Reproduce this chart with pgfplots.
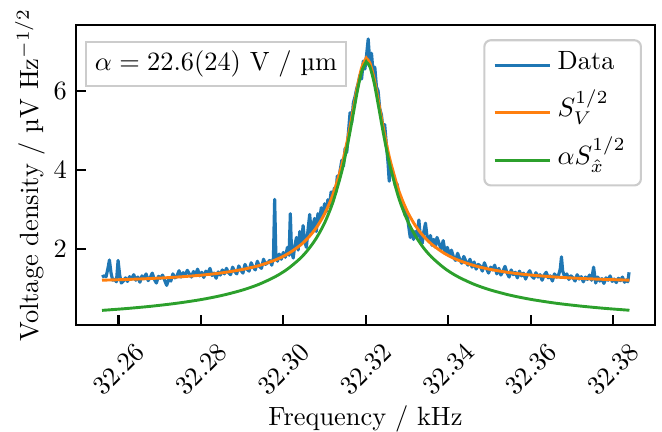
\documentclass[border=0pt]{standalone}
\usepackage{pgfplots}
\pgfplotsset{compat=1.18}
\usetikzlibrary{calc}
\definecolor{tabblue}{HTML}{1F77B4}
\definecolor{taborange}{HTML}{FF7F0E}
\definecolor{tabgreen}{HTML}{2CA02C}
\definecolor{boxgray}{HTML}{CCCCCC}

\pgfplotstableread{
x y
32.2560 1.30
32.2565 1.33
32.2570 1.31
32.2575 1.55
32.2578 1.73
32.2582 1.40
32.2586 1.22
32.2590 1.25
32.2595 1.18
32.2599 1.72
32.2603 1.35
32.2607 1.15
32.2612 1.20
32.2617 1.28
32.2622 1.19
32.2627 1.31
32.2632 1.25
32.2637 1.36
32.2642 1.22
32.2647 1.30
32.2652 1.17
32.2657 1.33
32.2662 1.26
32.2667 1.38
32.2672 1.21
32.2677 1.29
32.2682 1.40
32.2687 1.24
32.2692 1.15
32.2697 1.32
32.2702 1.27
32.2707 1.35
32.2712 1.22
32.2717 1.09
32.2722 1.25
32.2727 1.20
32.2732 1.38
32.2737 1.28
32.2742 1.33
32.2747 1.46
32.2752 1.30
32.2757 1.41
32.2762 1.35
32.2767 1.47
32.2772 1.38
32.2777 1.30
32.2782 1.44
32.2787 1.36
32.2792 1.50
32.2797 1.33
32.2802 1.42
32.2807 1.29
32.2812 1.45
32.2817 1.38
32.2822 1.52
32.2827 1.34
32.2832 1.40
32.2837 1.27
32.2842 1.43
32.2847 1.35
32.2852 1.48
32.2857 1.38
32.2862 1.52
32.2867 1.41
32.2872 1.36
32.2877 1.55
32.2882 1.44
32.2887 1.38
32.2892 1.58
32.2897 1.47
32.2902 1.40
32.2907 1.62
32.2912 1.50
32.2917 1.45
32.2922 1.66
32.2927 1.55
32.2932 1.48
32.2937 1.70
32.2942 1.57
32.2947 1.52
32.2952 1.75
32.2957 1.62
32.2962 1.66
32.2967 1.72
32.2972 1.60
32.2976 1.78
32.2979 3.26
32.2982 1.82
32.2986 1.70
32.2990 1.88
32.2995 1.75
32.3000 1.92
32.3005 1.80
32.3010 2.05
32.3014 1.85
32.3017 2.90
32.3020 1.95
32.3024 1.78
32.3028 2.10
32.3032 2.30
32.3036 1.98
32.3040 2.45
32.3044 2.15
32.3048 2.60
32.3052 2.20
32.3056 2.05
32.3060 2.50
32.3064 2.88
32.3068 2.40
32.3072 2.62
32.3076 2.78
32.3080 2.45
32.3084 2.90
32.3088 2.70
32.3092 3.05
32.3096 2.85
32.3100 3.15
32.3104 2.95
32.3108 3.25
32.3112 3.10
32.3116 3.45
32.3120 3.30
32.3124 3.55
32.3128 3.45
32.3131 3.85
32.3134 3.70
32.3138 4.00
32.3142 4.25
32.3146 4.10
32.3150 4.55
32.3154 4.45
32.3158 4.95
32.3162 5.45
32.3166 5.20
32.3170 5.70
32.3174 5.85
32.3178 6.05
32.3182 6.20
32.3186 6.40
32.3190 6.30
32.3194 6.75
32.3198 6.55
32.3202 6.90
32.3206 7.31
32.3210 6.70
32.3214 6.95
32.3218 6.45
32.3222 6.60
32.3226 6.10
32.3230 6.00
32.3234 5.55
32.3238 5.40
32.3242 5.05
32.3246 5.15
32.3250 4.65
32.3254 4.20
32.3257 3.72
32.3260 4.10
32.3264 4.00
32.3268 3.85
32.3272 3.60
32.3276 3.65
32.3280 3.40
32.3284 3.30
32.3288 3.20
32.3292 3.05
32.3296 2.85
32.3300 2.95
32.3304 2.60
32.3308 2.30
32.3312 2.45
32.3316 2.25
32.3320 2.45
32.3324 2.30
32.3329 2.74
32.3333 2.25
32.3337 2.15
32.3341 2.45
32.3345 2.66
32.3349 2.30
32.3353 2.20
32.3357 2.35
32.3361 2.10
32.3365 2.25
32.3369 2.05
32.3373 2.30
32.3378 2.15
32.3383 2.00
32.3388 2.22
32.3393 1.90
32.3398 2.05
32.3403 1.85
32.3408 1.98
32.3413 1.80
32.3418 1.72
32.3423 1.90
32.3428 1.75
32.3433 1.65
32.3438 1.82
32.3443 1.70
32.3448 1.60
32.3453 1.75
32.3458 1.55
32.3463 1.68
32.3468 1.50
32.3473 1.62
32.3478 1.58
32.3483 1.45
32.3488 1.66
32.3493 1.52
32.3498 1.40
32.3503 1.55
32.3508 1.48
32.3513 1.60
32.3518 1.38
32.3523 1.52
32.3528 1.35
32.3533 1.45
32.3538 1.57
32.3543 1.40
32.3548 1.30
32.3553 1.48
32.3558 1.36
32.3563 1.42
32.3568 1.28
32.3573 1.45
32.3578 1.33
32.3583 1.40
32.3588 1.25
32.3593 1.38
32.3598 1.46
32.3603 1.32
32.3608 1.27
32.3613 1.41
32.3618 1.30
32.3623 1.36
32.3628 1.22
32.3633 1.35
32.3638 1.42
32.3643 1.28
32.3648 1.33
32.3653 1.20
32.3658 1.38
32.3663 1.30
32.3668 1.35
32.3672 1.50
32.3675 1.81
32.3678 1.45
32.3683 1.30
32.3688 1.38
32.3693 1.24
32.3698 1.33
32.3703 1.28
32.3708 1.20
32.3713 1.36
32.3718 1.25
32.3723 1.31
32.3728 1.18
32.3733 1.30
32.3738 1.24
32.3743 1.35
32.3748 1.22
32.3753 1.55
32.3758 1.15
32.3763 1.30
32.3768 1.20
32.3773 1.26
32.3778 1.14
32.3783 1.28
32.3788 1.22
32.3793 1.33
32.3798 1.19
32.3803 1.25
32.3808 1.16
32.3813 1.27
32.3818 1.21
32.3823 1.30
32.3828 1.17
32.3833 1.23
32.3836 1.18
32.3839 1.42
}\datatable

\begin{document}
\begin{tikzpicture}
\begin{axis}[
    name=ax,
    scale only axis,
    width=219.3pt, height=113.6pt,
    xmin=32.2497, xmax=32.3902,
    ymin=0.09, ymax=7.66,
    xtick={32.26,32.28,32.30,32.32,32.34,32.36,32.38},
    ytick={2,4,6},
    scaled x ticks=false,
    tick align=inside,
    xtick pos=bottom, ytick pos=left,
    major tick length=3.6pt,
    every tick/.style={black, line width=0.8pt},
    axis line style={line width=0.8pt},
    xticklabel style={rotate=45, anchor=center,
        /pgf/number format/.cd, fixed, fixed zerofill, precision=2},
    xticklabel shift=16.7pt,
    xlabel={Frequency / kHz},
    ylabel={Voltage density / µV Hz$^{-1/2}$},
    xlabel style={at={(axis description cs:0.5,-0.313)}, anchor=center},
    ylabel style={at={(axis description cs:-0.0794,0.5)}, anchor=center},
    legend cell align=left,
    legend image code/.code={\draw[#1] (0pt,0pt) -- (20.8pt,0pt);},
    legend style={at={(axis description cs:0.9775,0.953)}, anchor=north east,
        draw=boxgray, line width=0.8pt, rounded corners=2.5pt, fill=white,
        inner xsep=3.3pt, inner ysep=0.5pt, row sep=0pt,
        nodes={text height=8pt, text depth=5pt, inner sep=2.5pt},
        /tikz/column 2/.style={column sep=7.2pt}},
]
\addplot[tabblue, line width=1.2pt, line join=round] table {\datatable};
\addlegendentry{Data}

\addplot[taborange, line width=1.1pt, smooth] coordinates {
(32.256,1.221) (32.262,1.239) (32.268,1.264) (32.274,1.298) (32.280,1.347)
(32.285,1.405) (32.290,1.490) (32.294,1.587) (32.298,1.729) (32.301,1.880)
(32.304,2.093) (32.306,2.288) (32.308,2.545) (32.310,2.892) (32.312,3.372)
(32.314,4.050) (32.315,4.486) (32.316,4.992) (32.317,5.551) (32.318,6.116)
(32.319,6.581) (32.320,6.808) (32.3202,6.814) (32.321,6.707) (32.322,6.324)
(32.323,5.782) (32.324,5.210) (32.325,4.680) (32.326,4.217) (32.328,3.490)
(32.330,2.976) (32.332,2.606) (32.334,2.334) (32.336,2.129) (32.339,1.904)
(32.342,1.745) (32.346,1.599) (32.350,1.498) (32.355,1.411) (32.360,1.351)
(32.366,1.301) (32.372,1.266) (32.378,1.241) (32.384,1.222)
};
\addlegendentry{$S_V^{1/2}$}

\addplot[tabgreen, line width=1.1pt, smooth] coordinates {
(32.256,0.459) (32.262,0.506) (32.268,0.564) (32.274,0.637) (32.280,0.731)
(32.285,0.834) (32.290,0.969) (32.294,1.113) (32.298,1.307) (32.301,1.501)
(32.304,1.761) (32.306,1.989) (32.308,2.280) (32.310,2.662) (32.312,3.177)
(32.314,3.889) (32.315,4.341) (32.316,4.862) (32.317,5.434) (32.318,6.011)
(32.319,6.483) (32.320,6.713) (32.3202,6.720) (32.321,6.611) (32.322,6.222)
(32.323,5.670) (32.324,5.086) (32.325,4.541) (32.326,4.062) (32.328,3.302)
(32.330,2.753) (32.332,2.348) (32.334,2.041) (32.336,1.803) (32.339,1.531)
(32.342,1.329) (32.346,1.130) (32.350,0.982) (32.355,0.843) (32.360,0.738)
(32.366,0.642) (32.372,0.569) (32.378,0.510) (32.384,0.462)
};
\addlegendentry{$\alpha S_{\hat{x}}^{1/2}$}

\node[draw=boxgray, line width=0.8pt, fill=white, inner sep=3.3pt]
    at (axis description cs:0.2418,0.87) {$\alpha = 22.6(24)$ V / µm};
\end{axis}
\pgfresetboundingbox
\path[use as bounding box] ($(ax.south west)+(-28.8pt,-40.2pt)$) rectangle ($(ax.north east)+(2.65pt,9.5pt)$);
\end{tikzpicture}
\end{document}
